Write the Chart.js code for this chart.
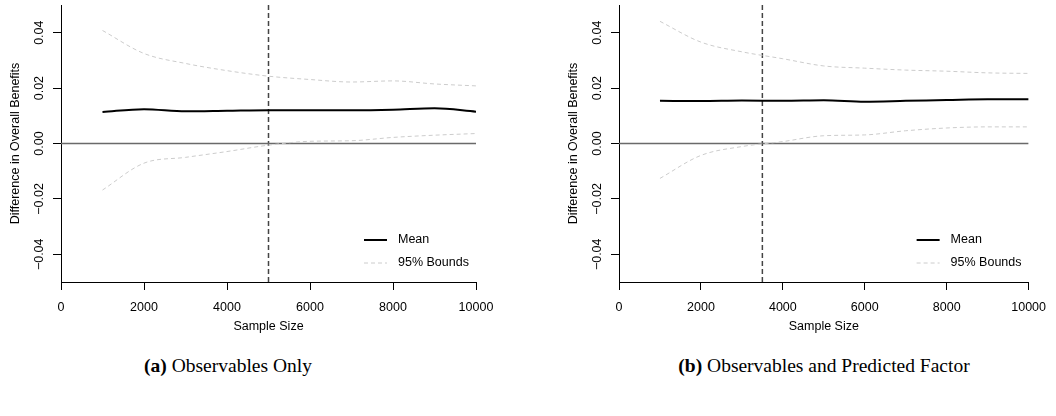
<!DOCTYPE html>
<html>
<head>
<meta charset="utf-8">
<script src="https://cdn.jsdelivr.net/npm/chart.js@4/dist/chart.umd.min.js"></script>
<style>
  body { margin: 0; background: #fff; width: 1056px; height: 416px; position: relative; overflow: hidden; }
  .panel { position: absolute; top: 0; width: 528px; height: 340px; }
  .caption { position: absolute; top: 355px; font-family: "Liberation Serif", serif; font-size: 19.5px; color: #000; white-space: nowrap; transform: translateX(-50%); }
</style>
</head>
<body>
<div class="panel" style="left:0"><canvas id="chartA" width="528" height="340"></canvas></div>
<div class="panel" style="left:528px"><canvas id="chartB" width="528" height="340"></canvas></div>
<div class="caption" style="left:228px"><b>(a)</b> Observables Only</div>
<div class="caption" style="left:824px"><b>(b)</b> Observables and Predicted Factor</div>

<script>
// sample sizes
const sampleSizes = [1000, 2000, 3000, 4000, 5000, 6000, 7000, 8000, 9000, 10000];

// (a) observables only
const meanA  = [0.0114, 0.0124, 0.0116, 0.0118, 0.0120, 0.0120, 0.0120, 0.0122, 0.0127, 0.0115];
const upperA = [0.0408, 0.0325, 0.0289, 0.0263, 0.0243, 0.0231, 0.0222, 0.0226, 0.0215, 0.0208];
const lowerA = [-0.0168, -0.0071, -0.0050, -0.0029, -0.0006, 0.0008, 0.0010, 0.0022, 0.0030, 0.0036];
const cutoffA = 5000;

// (b) observables and predicted factor
const meanB  = [0.0154, 0.0153, 0.0155, 0.0154, 0.0156, 0.0151, 0.0154, 0.0157, 0.0160, 0.0160];
const upperB = [0.0441, 0.0366, 0.0331, 0.0306, 0.0280, 0.0272, 0.0265, 0.0261, 0.0255, 0.0253];
const lowerB = [-0.0126, -0.0043, -0.0011, 0.0007, 0.0028, 0.0031, 0.0046, 0.0056, 0.0060, 0.0060];
const cutoffB = 3500;

// axes
const yTicks = [-0.04, -0.02, 0, 0.02, 0.04];
const yTickLabels = ['\u22120.04', '\u22120.02', '0.00', '0.02', '0.04'];
const xLimits = [0, 10000];
const yLimits = [-0.05, 0.05];

const sans = '"Liberation Sans", Arial, sans-serif';
const fontSize = 12.5;

function pts(ys) {
    return sampleSizes.map((x, i) => ({ x: x, y: ys[i] }));
}

// y tick labels, axis titles and legend drawn R-style
const rStyle = {
    id: 'rStyle',
    afterDraw(chart) {
        const ctx = chart.ctx;
        const area = chart.chartArea;
        const ys = chart.scales.y;
        ctx.save();
        ctx.fillStyle = '#000';
        ctx.font = fontSize + 'px ' + sans;
        ctx.textAlign = 'center';
        ctx.textBaseline = 'middle';

        // y tick labels, rotated
        yTicks.forEach((v, i) => {
            ctx.save();
            ctx.translate(area.left - 21, ys.getPixelForValue(v));
            ctx.rotate(-Math.PI / 2);
            ctx.fillText(yTickLabels[i], 0, 0);
            ctx.restore();
        });

        // y title
        ctx.save();
        ctx.translate(area.left - 45, (area.top + area.bottom) / 2);
        ctx.rotate(-Math.PI / 2);
        ctx.fillText('Difference in Overall Benefits', 0, 0);
        ctx.restore();

        // x title
        ctx.fillText('Sample Size', (area.left + area.right) / 2, 327);

        // legend
        const lx = area.right - 112;
        const rows = [chart.data.datasets[0], chart.data.datasets[1]];
        rows.forEach((ds, i) => {
            const y = 240 + i * 23;
            ctx.beginPath();
            ctx.strokeStyle = ds.borderColor;
            ctx.lineWidth = ds.borderWidth;
            ctx.setLineDash(ds.borderDash || []);
            ctx.moveTo(lx, y);
            ctx.lineTo(lx + 23, y);
            ctx.stroke();
            ctx.setLineDash([]);
            ctx.textAlign = 'left';
            ctx.fillText(ds.label, lx + 34, y);
        });
        ctx.restore();
    }
};

function makePanel(id, mean, upper, lower, cutoff, padLeft, padRight) {
    const ctx = document.getElementById(id).getContext('2d');
    return new Chart(ctx, {
        type: 'scatter',
        data: {
            datasets: [{
                label: 'Mean',
                data: pts(mean),
                showLine: true,
                borderColor: '#000',
                borderWidth: 2,
                pointRadius: 0,
                cubicInterpolationMode: 'monotone'
            }, {
                label: '95% Bounds',
                data: pts(upper),
                showLine: true,
                borderColor: '#cccccc',
                borderWidth: 1,
                borderDash: [4, 3],
                pointRadius: 0,
                cubicInterpolationMode: 'monotone'
            }, {
                label: 'lower',
                data: pts(lower),
                showLine: true,
                borderColor: '#cccccc',
                borderWidth: 1,
                borderDash: [4, 3],
                pointRadius: 0,
                cubicInterpolationMode: 'monotone'
            }, {
                label: 'zero',
                data: [{ x: xLimits[0], y: 0 }, { x: xLimits[1], y: 0 }],
                showLine: true,
                borderColor: '#6a6a6a',
                borderWidth: 1.5,
                pointRadius: 0
            }, {
                label: 'cutoff',
                data: [{ x: cutoff, y: yLimits[0] }, { x: cutoff, y: yLimits[1] }],
                showLine: true,
                borderColor: '#444',
                borderWidth: 1.5,
                borderDash: [5, 3],
                pointRadius: 0
            }]
        },
        options: {
            responsive: false,
            animation: false,
            devicePixelRatio: 1,
            layout: { padding: { left: 0, top: 5, right: padRight, bottom: 0 } },
            plugins: { legend: { display: false }, tooltip: { enabled: false } },
            scales: {
                x: {
                    type: 'linear',
                    min: xLimits[0],
                    max: xLimits[1],
                    ticks: { stepSize: 2000, color: '#000', padding: 10, maxRotation: 0,
                             callback: v => String(v),
                             font: { family: sans, size: fontSize } },
                    grid: { drawOnChartArea: false, tickLength: 8, tickColor: '#000' },
                    border: { color: '#000', width: 1 },
                    afterFit: s => { s.height = 58; }
                },
                y: {
                    type: 'linear',
                    min: yLimits[0],
                    max: yLimits[1],
                    afterBuildTicks: s => { s.ticks = yTicks.map(v => ({ value: v })); },
                    ticks: { display: false },
                    grid: { drawOnChartArea: false, tickLength: 8, tickColor: '#000' },
                    border: { color: '#000', width: 1 },
                    afterFit: s => { s.width = padLeft; }
                }
            }
        },
        plugins: [rStyle]
    });
}

makePanel('chartA', meanA, upperA, lowerA, cutoffA, 61, 52);
makePanel('chartB', meanB, upperB, lowerB, cutoffB, 91, 26);
</script>
</body>
</html>
